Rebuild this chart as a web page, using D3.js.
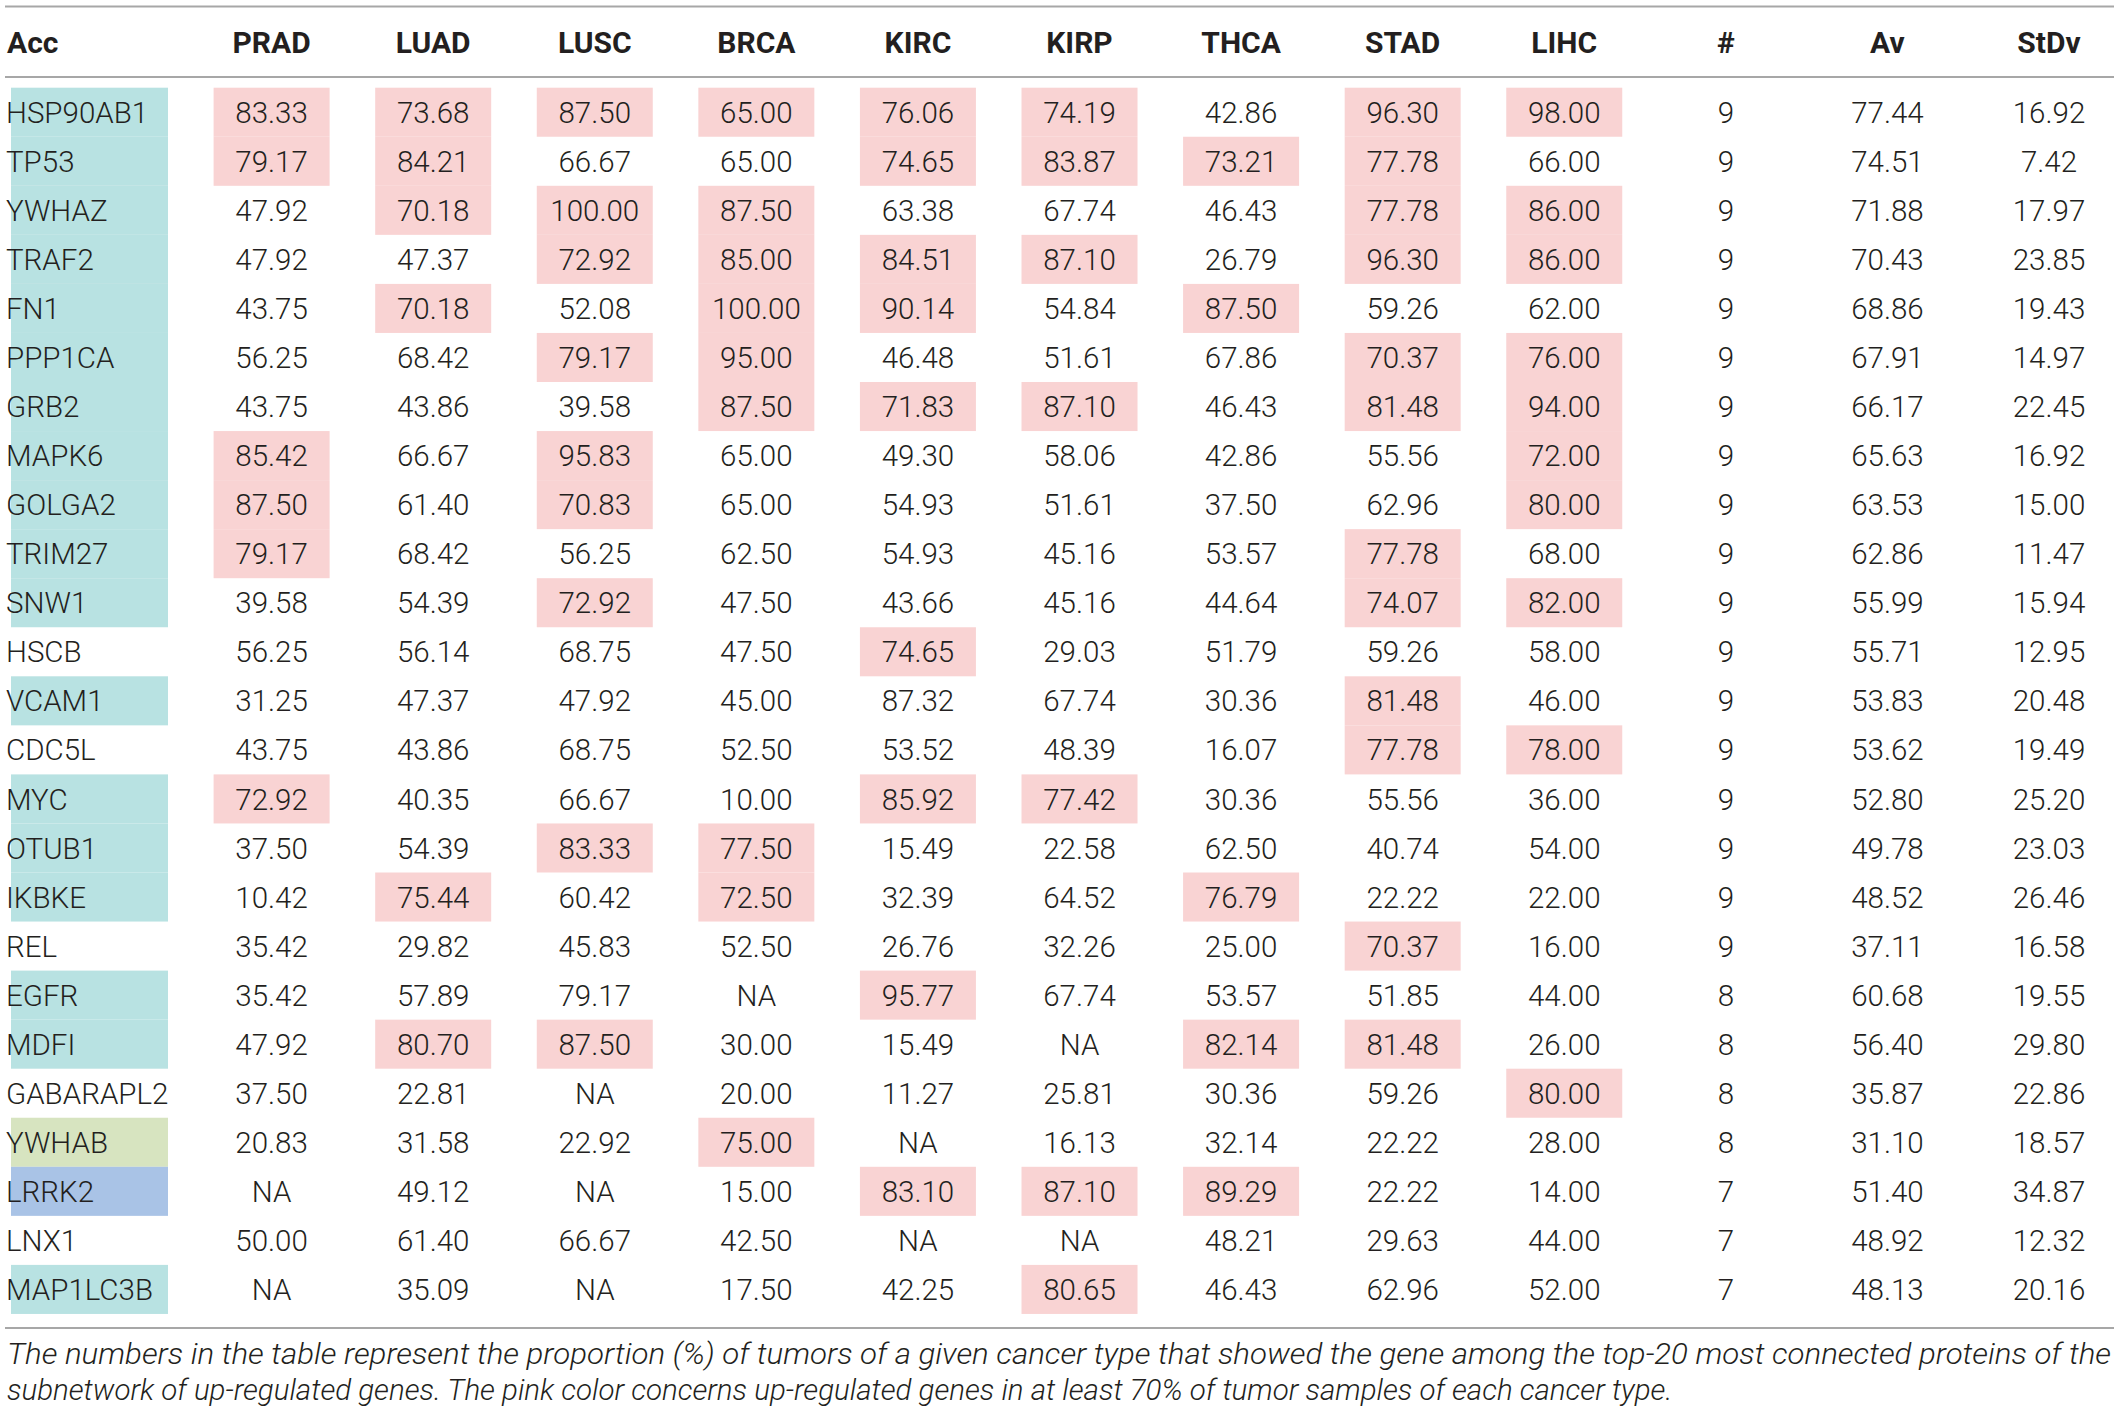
<!DOCTYPE html>
<html><head><meta charset="utf-8">
<script src="https://cdn.jsdelivr.net/npm/d3@7"></script>
<style>html,body{margin:0;padding:0;background:#fff;}svg{display:block;}</style>
</head><body>
<script>
const genes = ["HSP90AB1","TP53","YWHAZ","TRAF2","FN1","PPP1CA","GRB2","MAPK6","GOLGA2","TRIM27","SNW1","HSCB","VCAM1","CDC5L","MYC","OTUB1","IKBKE","REL","EGFR","MDFI","GABARAPL2","YWHAB","LRRK2","LNX1","MAP1LC3B"];
// gene group marker for the Acc column (A = teal, B = green, C = blue, "" = none)
const geneGroup = ["A","A","A","A","A","A","A","A","A","A","A","","A","","A","A","A","","A","A","","B","C","","A"];
const cancerTypes = ["PRAD","LUAD","LUSC","BRCA","KIRC","KIRP","THCA","STAD","LIHC"];
const NA = null;
const PRAD = [83.33,79.17,47.92,47.92,43.75,56.25,43.75,85.42,87.50,79.17,39.58,56.25,31.25,43.75,72.92,37.50,10.42,35.42,35.42,47.92,37.50,20.83,NA,50.00,NA];
const LUAD = [73.68,84.21,70.18,47.37,70.18,68.42,43.86,66.67,61.40,68.42,54.39,56.14,47.37,43.86,40.35,54.39,75.44,29.82,57.89,80.70,22.81,31.58,49.12,61.40,35.09];
const LUSC = [87.50,66.67,100.00,72.92,52.08,79.17,39.58,95.83,70.83,56.25,72.92,68.75,47.92,68.75,66.67,83.33,60.42,45.83,79.17,87.50,NA,22.92,NA,66.67,NA];
const BRCA = [65.00,65.00,87.50,85.00,100.00,95.00,87.50,65.00,65.00,62.50,47.50,47.50,45.00,52.50,10.00,77.50,72.50,52.50,NA,30.00,20.00,75.00,15.00,42.50,17.50];
const KIRC = [76.06,74.65,63.38,84.51,90.14,46.48,71.83,49.30,54.93,54.93,43.66,74.65,87.32,53.52,85.92,15.49,32.39,26.76,95.77,15.49,11.27,NA,83.10,NA,42.25];
const KIRP = [74.19,83.87,67.74,87.10,54.84,51.61,87.10,58.06,51.61,45.16,45.16,29.03,67.74,48.39,77.42,22.58,64.52,32.26,67.74,NA,25.81,16.13,87.10,NA,80.65];
const THCA = [42.86,73.21,46.43,26.79,87.50,67.86,46.43,42.86,37.50,53.57,44.64,51.79,30.36,16.07,30.36,62.50,76.79,25.00,53.57,82.14,30.36,32.14,89.29,48.21,46.43];
const STAD = [96.30,77.78,77.78,96.30,59.26,70.37,81.48,55.56,62.96,77.78,74.07,59.26,81.48,77.78,55.56,40.74,22.22,70.37,51.85,81.48,59.26,22.22,22.22,29.63,62.96];
const LIHC = [98.00,66.00,86.00,86.00,62.00,76.00,94.00,72.00,80.00,68.00,82.00,58.00,46.00,78.00,36.00,54.00,22.00,16.00,44.00,26.00,80.00,28.00,14.00,44.00,52.00];
// up-regulated (pink) flags per cancer type, by gene row
const upPRAD = [1,1,0,0,0,0,0,1,1,1,0,0,0,0,1,0,0,0,0,0,0,0,0,0,0];
const upLUAD = [1,1,1,0,1,0,0,0,0,0,0,0,0,0,0,0,1,0,0,1,0,0,0,0,0];
const upLUSC = [1,0,1,1,0,1,0,1,1,0,1,0,0,0,0,1,0,0,0,1,0,0,0,0,0];
const upBRCA = [1,0,1,1,1,1,1,0,0,0,0,0,0,0,0,1,1,0,0,0,0,1,0,0,0];
const upKIRC = [1,1,0,1,1,0,1,0,0,0,0,1,0,0,1,0,0,0,1,0,0,0,1,0,0];
const upKIRP = [1,1,0,1,0,0,1,0,0,0,0,0,0,0,1,0,0,0,0,0,0,0,1,0,1];
const upTHCA = [0,1,0,0,1,0,0,0,0,0,0,0,0,0,0,0,1,0,0,1,0,0,1,0,0];
const upSTAD = [1,1,1,1,0,1,1,0,0,1,1,0,1,1,0,0,0,1,0,1,0,0,0,0,0];
const upLIHC = [1,0,1,1,0,1,1,1,1,0,1,0,0,1,0,0,0,0,0,0,1,0,0,0,0];
const countN = [9,9,9,9,9,9,9,9,9,9,9,9,9,9,9,9,9,9,8,8,8,8,7,7,7];
const avg = [77.44,74.51,71.88,70.43,68.86,67.91,66.17,65.63,63.53,62.86,55.99,55.71,53.83,53.62,52.80,49.78,48.52,37.11,60.68,56.40,35.87,31.10,51.40,48.92,48.13];
const stdv = [16.92,7.42,17.97,23.85,19.43,14.97,22.45,16.92,15.00,11.47,15.94,12.95,20.48,19.49,25.20,23.03,26.46,16.58,19.55,29.80,22.86,18.57,34.87,12.32,20.16];
const headers = ["Acc", ...cancerTypes, "#", "Av", "StDv"];
const captionLines = [
  "The numbers in the table represent the proportion (%) of tumors of a given cancer type that showed the gene among the top-20 most connected proteins of the",
  "subnetwork of up-regulated genes. The pink color concerns up-regulated genes in at least 70% of tumor samples of each cancer type."
];

const values = {PRAD, LUAD, LUSC, BRCA, KIRC, KIRP, THCA, STAD, LIHC};
const ups = {PRAD: upPRAD, LUAD: upLUAD, LUSC: upLUSC, BRCA: upBRCA, KIRC: upKIRC, KIRP: upKIRP, THCA: upTHCA, STAD: upSTAD, LIHC: upLIHC};

const W = 2119, H = 1414;
const FONT = "Roboto, 'Liberation Sans', Arial, sans-serif";
const TEXT = "#231f20";
const svg = d3.select("body").append("svg").attr("width", W).attr("height", H)
  .style("background", "#fff");

const numCols = [...cancerTypes, "#", "Av", "StDv"];
const x = d3.scalePoint().domain(numCols).range([271.6, 2049]);
const rowTop = 87.7, rowH = 49.05;
const y = d3.scaleBand().domain(genes).range([rowTop, rowTop + genes.length * rowH]).padding(0);
const groupColor = d3.scaleOrdinal().domain(["A","B","C"]).range(["#b8e2e2","#d7e4c0","#a9c3e6"]);
const fmt = d3.format(".2f");
const cellW = 116;

// rules
const rule = (yy) => svg.append("line").attr("x1", 5).attr("x2", 2114).attr("y1", yy).attr("y2", yy)
  .attr("stroke", "#a7a7a7").attr("stroke-width", 2);
rule(6.5); rule(77); rule(1328);

// header
svg.append("g").selectAll("text").data(headers).join("text")
  .attr("x", d => d === "Acc" ? 7 : x(d))
  .attr("y", 52.5)
  .attr("text-anchor", d => d === "Acc" ? "start" : "middle")
  .attr("font-family", FONT).attr("font-weight", 700).attr("font-size", 30)
  .attr("fill", TEXT)
  .text(d => d);

// gene label backgrounds
svg.append("g").selectAll("rect").data(genes.map((g, i) => ({g, grp: geneGroup[i]})).filter(d => d.grp))
  .join("rect")
  .attr("x", 11).attr("width", 157)
  .attr("y", d => y(d.g)).attr("height", y.bandwidth())
  .attr("fill", d => groupColor(d.grp));

// pink cells
const pinkCells = [];
cancerTypes.forEach(c => genes.forEach((g, i) => { if (ups[c][i]) pinkCells.push({c, g}); }));
svg.append("g").selectAll("rect").data(pinkCells).join("rect")
  .attr("x", d => x(d.c) - cellW / 2).attr("width", cellW)
  .attr("y", d => y(d.g)).attr("height", y.bandwidth())
  .attr("fill", "#f9d3d3");

// gene labels
svg.append("g").selectAll("text").data(genes).join("text")
  .attr("x", 6).attr("y", d => y(d) + y.bandwidth() / 2).attr("dy", "0.36em")
  .attr("font-family", FONT).attr("font-weight", 300).attr("font-size", 29.5)
  .attr("fill", TEXT).text(d => d);

// numeric cells
const cells = [];
genes.forEach((g, i) => {
  cancerTypes.forEach(c => {
    const v = values[c][i];
    cells.push({g, col: c, txt: v === null ? "NA" : fmt(v)});
  });
  cells.push({g, col: "#", txt: String(countN[i])});
  cells.push({g, col: "Av", txt: fmt(avg[i])});
  cells.push({g, col: "StDv", txt: fmt(stdv[i])});
});
svg.append("g").selectAll("text").data(cells).join("text")
  .attr("x", d => x(d.col)).attr("y", d => y(d.g) + y.bandwidth() / 2).attr("dy", "0.36em")
  .attr("text-anchor", "middle")
  .attr("font-family", FONT).attr("font-weight", 300).attr("font-size", 29.5)
  .attr("fill", TEXT).text(d => d.txt);

// caption
const cap = svg.append("g").selectAll("text").data(captionLines).join("text")
  .attr("x", 7).attr("y", (d, i) => 1364 + i * 36)
  .attr("font-family", FONT).attr("font-weight", 300).attr("font-style", "italic").attr("font-size", 29.5)
  .attr("fill", TEXT).text(d => d);
cap.filter((d, i) => i === 0).attr("textLength", 2104).attr("lengthAdjust", "spacingAndGlyphs");
</script>
</body></html>
